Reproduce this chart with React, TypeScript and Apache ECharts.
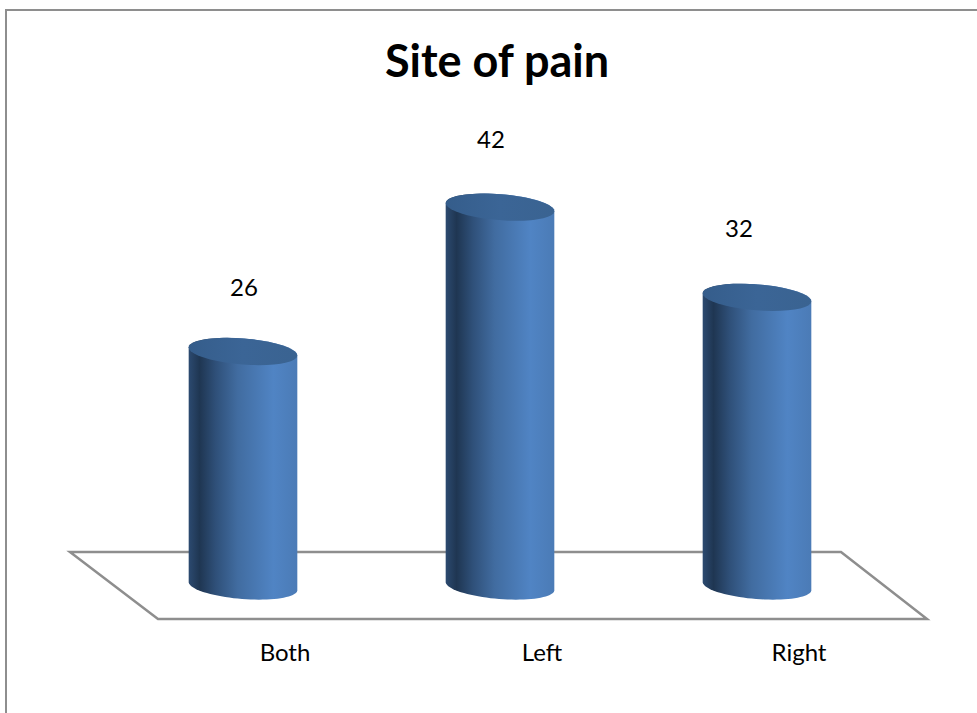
import React, { useEffect, useRef } from "react";
import * as echarts from "echarts";

const categories = ["Both", "Left", "Right"];
const painCounts = [26, 42, 32];
const titleText = "Site of pain";
// Perspective shift of each value label relative to its cylinder's top
const labelShiftX = [1, -9, -18];
const labelShiftY = [-65, -69, -70];

const FONT = "Lato, Carlito, sans-serif";
const TILT = 4.5;
const EDGE = "#8e8e8e";

const bodyGradient = {
  type: "linear",
  x: 0,
  y: 0,
  x2: 1,
  y2: 0,
  colorStops: [
    { offset: 0, color: "#2c4a70" },
    { offset: 0.1, color: "#1f3652" },
    { offset: 0.25, color: "#2f5079" },
    { offset: 0.45, color: "#416ca0" },
    { offset: 0.78, color: "#5084c4" },
    { offset: 1, color: "#4b7bb6" },
  ],
};

const capGradient = {
  type: "linear",
  x: 0,
  y: 0,
  x2: 1,
  y2: 0,
  colorStops: [
    { offset: 0, color: "#355d8b" },
    { offset: 0.5, color: "#3b6596" },
    { offset: 1, color: "#3a6391" },
  ],
};

// Point on the tilted ellipse outline; t in degrees, positive t runs downward on screen
const rimPoint = (cx: number, cy: number, a: number, b: number, t: number) => {
  const th = (TILT * Math.PI) / 180;
  const r = (t * Math.PI) / 180;
  return [
    cx + a * Math.cos(r) * Math.cos(th) - b * Math.sin(r) * Math.sin(th),
    cy + a * Math.cos(r) * Math.sin(th) + b * Math.sin(r) * Math.cos(th),
  ];
};

const rimArc = (cx: number, cy: number, a: number, b: number, from: number, to: number) => {
  const out: string[] = [];
  const steps = 40;
  for (let s = 0; s <= steps; s++) {
    const p = rimPoint(cx, cy, a, b, from + ((to - from) * s) / steps);
    out.push(`${p[0].toFixed(2)} ${p[1].toFixed(2)}`);
  }
  return out;
};

const renderCylinder = (params: any, api: any) => {
  const i = params.dataIndex;
  const top = api.coord([api.value(0), api.value(1)]);
  const base = api.coord([api.value(0), 0]);
  const a = (api.size([1, 0])[0] * 0.424) / 2;
  const b = 13;
  const [cx, ty] = top;
  const by = base[1];
  const lower = rimArc(cx, by, a, b, 180, 0);
  const upper = rimArc(cx, ty, a, b, 0, -180);
  const body = `M ${[...lower, ...upper].join(" L ")} Z`;
  const cap = `M ${rimArc(cx, ty, a, b, 0, 360).join(" L ")} Z`;
  return {
    type: "group",
    children: [
      { type: "path", shape: { pathData: body }, style: { fill: bodyGradient } },
      { type: "path", shape: { pathData: cap }, style: { fill: capGradient } },
      {
        type: "text",
        style: {
          x: cx + labelShiftX[i],
          y: ty + labelShiftY[i],
          text: String(api.value(1)),
          fill: "#000",
          font: `24px ${FONT}`,
          align: "center",
          verticalAlign: "middle",
        },
      },
    ],
  };
};

export default function App() {
  const ref = useRef<HTMLDivElement>(null);
  useEffect(() => {
    const chart = echarts.init(ref.current!, null, { renderer: "svg" });
    chart.setOption({
      animation: false,
      backgroundColor: "#fff",
      title: {
        text: titleText,
        left: 492,
        top: 32,
        textAlign: "center",
        textStyle: { fontFamily: FONT, fontSize: 45, fontWeight: "bold", color: "#000" },
      },
      grid: { left: 114.5, top: 135, width: 771, height: 451 },
      xAxis: {
        type: "category",
        data: categories,
        axisLine: { show: false },
        axisTick: { show: false },
        splitLine: { show: false },
        axisLabel: {
          margin: 53,
          color: "#000",
          fontFamily: FONT,
          fontSize: 24,
          padding: [0, 0, 0, 84],
        },
      },
      yAxis: { type: "value", min: 0, max: 50, show: false, splitLine: { show: false } },
      graphic: [
        {
          type: "polyline",
          z: 0,
          silent: true,
          shape: { points: [[6, 713], [6, 10], [977, 10]] },
          style: { stroke: EDGE, lineWidth: 2, fill: "none" },
        },
        {
          type: "polygon",
          z: 0,
          silent: true,
          shape: { points: [[70, 552], [841, 552], [927, 619], [158, 619]] },
          style: { stroke: EDGE, lineWidth: 2.5, fill: "#fff" },
        },
      ],
      series: [
        {
          type: "custom",
          z: 5,
          clip: false,
          renderItem: renderCylinder,
          encode: { x: 0, y: 1 },
          data: painCounts.map((v, i) => [i, v]),
        },
      ],
    });
    return () => chart.dispose();
  }, []);
  return <div ref={ref} style={{ position: "fixed", left: 0, top: 0, width: 977, height: 713 }} />;
}
